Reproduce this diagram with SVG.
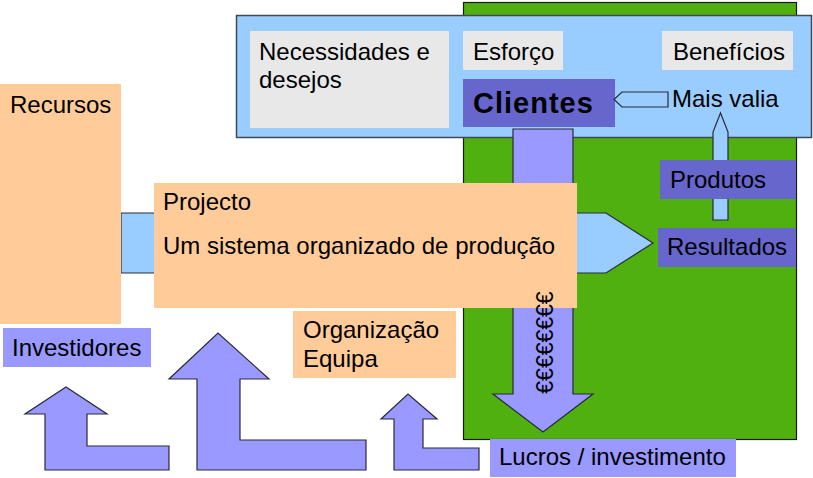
<svg xmlns="http://www.w3.org/2000/svg" width="813" height="478" viewBox="0 0 813 478">
<style>
text{font-family:"Liberation Sans",Arial,sans-serif;font-size:24px;fill:#000}
.peach{fill:#ffcc99}
.purple{fill:#6666cc}
.lav{fill:#9999ff}
.gray{fill:#e8e8e8}
.arrowL{fill:#9999ff;stroke:#2a2a3a;stroke-width:1.2}
.arrowB{fill:#99ccff;stroke:#2a2a3a;stroke-width:1.2}
</style>
<rect width="813" height="478" fill="#ffffff"/>
<g id="mercado">
<rect x="463.5" y="2.5" width="333" height="437" fill="#50b010" stroke="#1a1a1a" stroke-width="1.2"/>
</g>
<g id="clientes-area">
<rect x="236.5" y="15.5" width="575" height="122" fill="#99ccff" stroke="#404a55" stroke-width="1.5"/>
</g>
<g id="necessidades">
<rect class="gray" x="250" y="31" width="199" height="97"/>
<text x="259" y="60">Necessidades e</text>
<text x="259" y="88">desejos</text>
</g>
<g id="esforco">
<rect class="gray" x="463" y="31" width="100" height="39"/>
<text x="473" y="60">Esforço</text>
</g>
<g id="beneficios">
<rect class="gray" x="662" y="31" width="131" height="39"/>
<text x="673" y="60">Benefícios</text>
</g>
<g id="clientes">
<rect class="purple" x="463" y="79" width="152" height="48"/>
<text x="473" y="113" style="font-weight:bold;font-size:29px;letter-spacing:1px">Clientes</text>
</g>
<g id="connectors">
<polygon class="arrowL" points="513,129 573,129 573,394 593,394 543,432 493,394 513,394"/>
<polygon class="arrowB" points="121,213 606,213 653,243 606,273 121,273"/>
<polygon class="arrowB" points="713,220 713,132 720.5,113 728,132 728,220"/>
<polygon class="arrowB" points="614,99.5 622,92 668,92 668,107 622,107"/>
<polygon class="arrowL" points="45,470 45,414 25,414 66,387 107,414 87,414 87,446 169,446 169,470"/>
<polygon class="arrowL" points="197,470 197,379 169,379 218,333 269,379 240,379 240,440 366,440 366,470"/>
<polygon class="arrowL" points="394,470 394,419 381,419 408,394 437,419 423,419 423,448 479,448 479,470"/>
</g>
<g id="mais-valia">
<text x="672" y="107">Mais valia</text>
</g>
<g id="recursos">
<rect class="peach" x="0" y="84" width="121" height="240"/>
<text x="10" y="113">Recursos</text>
</g>
<g id="projecto">
<rect class="peach" x="154" y="183" width="423" height="125"/>
<text x="163" y="210">Projecto</text>
<text x="163" y="254">Um sistema organizado de produção</text>
</g>
<g id="euros">
<text transform="translate(553,342.5) rotate(-90)" text-anchor="middle" style="font-size:23px">€€€€€€€€</text>
</g>
<g id="produtos">
<rect class="purple" x="660" y="160" width="136" height="39"/>
<text x="670" y="188">Produtos</text>
</g>
<g id="resultados">
<rect class="purple" x="658" y="228" width="138" height="39"/>
<text x="667" y="255">Resultados</text>
</g>
<g id="investidores">
<rect class="lav" x="3" y="328" width="148" height="39"/>
<text x="12" y="356">Investidores</text>
</g>
<g id="organizacao">
<rect class="peach" x="293" y="311" width="163" height="67"/>
<text x="303" y="338">Organização</text>
<text x="303" y="367">Equipa</text>
</g>
<g id="lucros">
<rect class="lav" x="490" y="439" width="246" height="38"/>
<text x="499" y="465">Lucros / investimento</text>
</g>
</svg>
